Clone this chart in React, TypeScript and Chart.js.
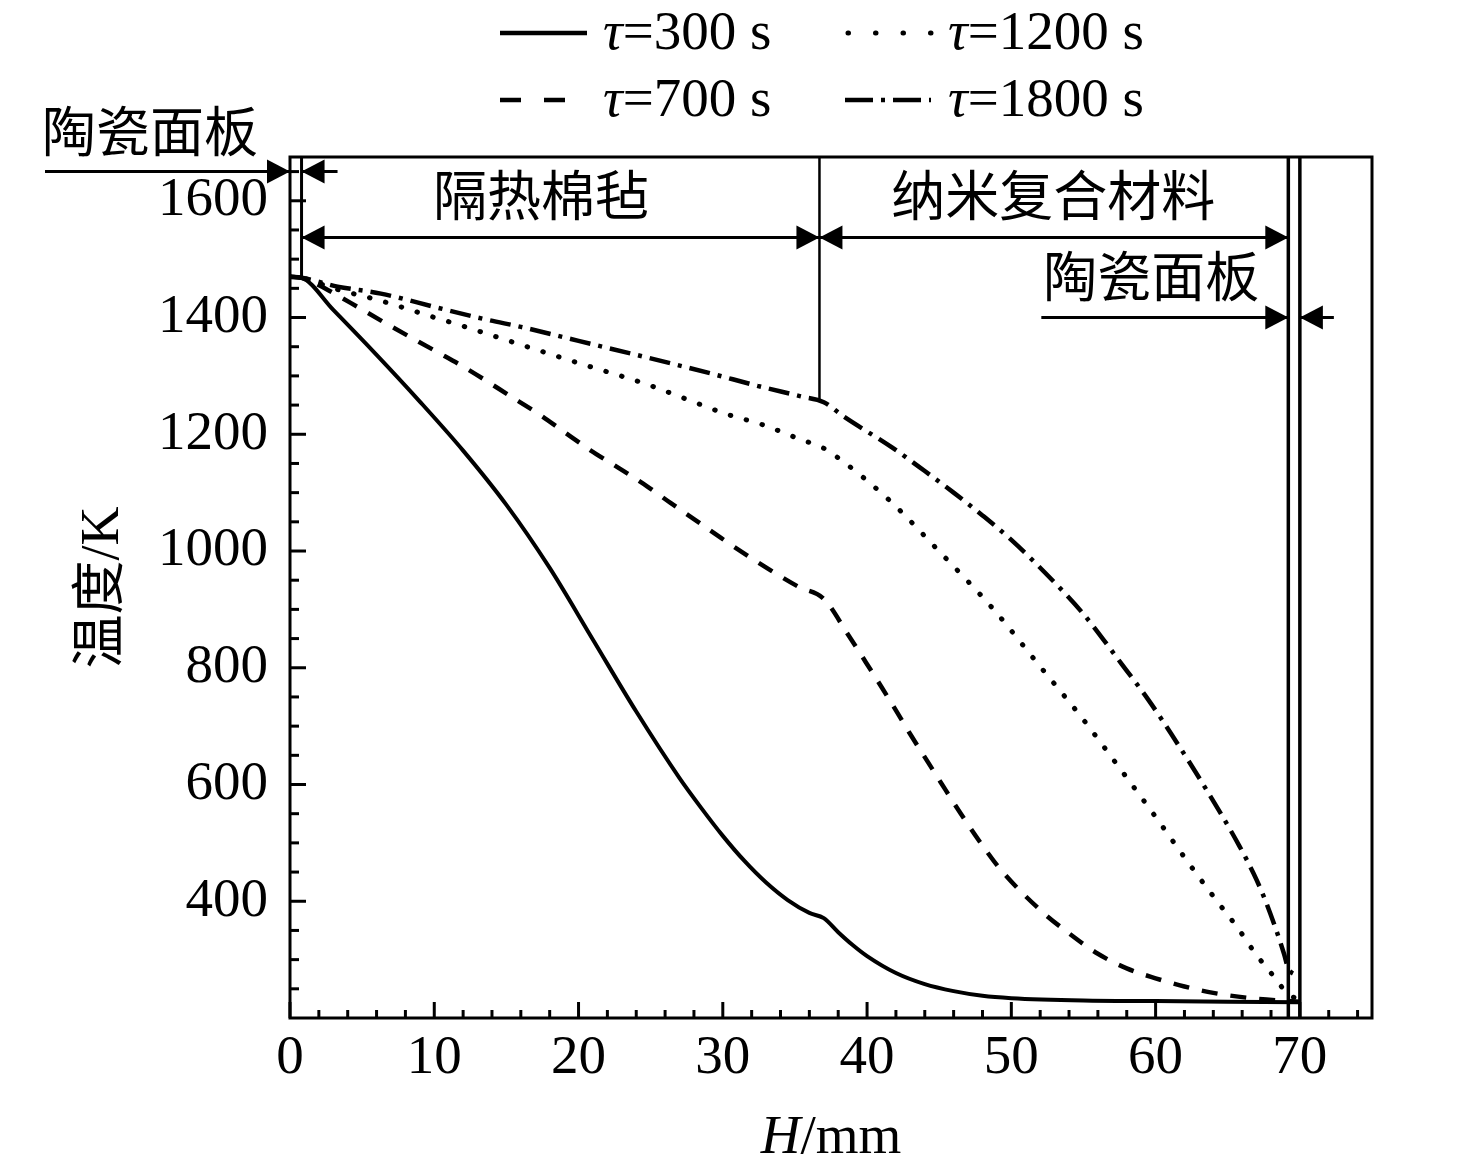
import React, { useEffect, useRef } from "react";
import { Chart, registerables } from "chart.js";

Chart.register(...registerables);

// ---------------- data ----------------
const pos300 = [0, 0.8, 3, 6, 9, 12, 15, 18, 21, 24, 27, 28.5, 30, 31.5, 33, 34.5, 36, 37.0, 38, 39, 40, 42, 44, 46, 48, 50, 55, 60, 65, 70];
const temp300 = [1470, 1468, 1413, 1336, 1256, 1172, 1079, 971, 848, 725, 611, 560, 512, 469, 432, 402, 380, 371, 347, 325, 306, 277, 258, 246, 238, 234, 230, 229, 228, 227];

const pos700 = [0, 0.8, 2.5, 4.2, 7, 10.2, 12, 15.3, 17.4, 19, 20.8, 22.8, 24.8, 26.4, 28.1, 29.9, 31.9, 33.7, 35.3, 37.0, 38.7, 39.9, 41, 42, 42.9, 44.1, 45.1, 46.5, 47.9, 49.2, 52, 54, 56, 58, 60, 62, 64, 67, 70];
const temp700 = [1470, 1468, 1449, 1425, 1385, 1341, 1316, 1265, 1232, 1204, 1173, 1142, 1110, 1082, 1053, 1022, 989, 961, 938, 918, 856, 810, 767, 727, 690, 643, 604, 550, 499, 456, 385, 345, 310, 285, 268, 254, 243, 233, 228];

const pos1200 = [0, 0.8, 3, 5.8, 7.2, 9.5, 11.9, 15.8, 20, 24.8, 27.6, 30.2, 32.8, 35.3, 37.0, 37.7, 41.5, 44.9, 48.8, 51.9, 54.9, 57.6, 59.9, 62.3, 64.2, 65.7, 66.9, 68.3, 69.2, 70];
const temp1200 = [1470, 1468, 1450, 1432, 1422, 1404, 1386, 1355, 1322, 1285, 1259, 1235, 1216, 1192, 1176, 1165, 1088, 1002, 899, 805, 714, 625, 548, 465, 402, 354, 311, 268, 240, 233];

const pos1800 = [0, 0.8, 3.3, 6.3, 10.2, 13.7, 16, 20, 25, 29.2, 32.4, 35.4, 37.0, 38.4, 41.7, 44, 46, 48, 50, 53, 55, 57.6, 59.5, 61.1, 63.4, 65.8, 66.8, 67.5, 68.3, 68.9, 69.2, 70];
const temp1800 = [1470, 1468, 1453, 1441, 1417, 1396, 1384, 1360, 1330, 1304, 1283, 1265, 1255, 1230, 1178, 1137, 1100, 1061, 1019, 946, 892, 808, 745, 686, 596, 495, 447, 408, 355, 310, 285, 272];

const seriesTimes = [300, 700, 1200, 1800];
const xTickValues = [0, 10, 20, 30, 40, 50, 60, 70];
const yTickValues = [400, 600, 800, 1000, 1200, 1400, 1600];
const layerBounds = [0.8, 36.7, 69.2, 70.0];
const layerNames = ["陶瓷面板", "隔热棉毡", "纳米复合材料", "陶瓷面板"];
const xAxisTitle = ["H", "/mm"];
const yAxisTitle = "温度/K";

// ---------------- styling ----------------
const SERIF = '"Liberation Serif", "Times New Roman", "Noto Sans CJK SC", serif';
const CJK = '"Liberation Serif", "Noto Sans CJK SC", serif';
const FS = 55;
const CFS = 54;

const interp = (xs: number[], ys: number[], v: number) => {
  for (let i = 0; i < xs.length - 1; i++) {
    if (v >= xs[i] && v <= xs[i + 1]) {
      const t = (v - xs[i]) / (xs[i + 1] - xs[i]);
      return ys[i] + t * (ys[i + 1] - ys[i]);
    }
  }
  return ys[ys.length - 1];
};

const toPoints = (xs: number[], ys: number[]) => xs.map((x, i) => ({ x, y: ys[i] }));

const arrowHead = (ctx: CanvasRenderingContext2D, tipX: number, tipY: number, dir: number) => {
  const L = 23, W = 12;
  ctx.beginPath();
  ctx.moveTo(tipX, tipY);
  ctx.lineTo(tipX - dir * L, tipY - W);
  ctx.lineTo(tipX - dir * L, tipY + W);
  ctx.closePath();
  ctx.fill();
};

const hline = (ctx: CanvasRenderingContext2D, x1: number, x2: number, y: number) => {
  ctx.beginPath();
  ctx.moveTo(x1, y);
  ctx.lineTo(x2, y);
  ctx.stroke();
};

const vline = (ctx: CanvasRenderingContext2D, x: number, y1: number, y2: number) => {
  ctx.beginPath();
  ctx.moveTo(x, y1);
  ctx.lineTo(x, y2);
  ctx.stroke();
};

const annotationPlugin = {
  id: "annotations",
  afterDraw(chart: any) {
    const { ctx, chartArea: a, scales } = chart;
    const X = (v: number) => scales.x.getPixelForValue(v);
    const Y = (v: number) => scales.y.getPixelForValue(v);
    ctx.save();
    ctx.strokeStyle = "#000";
    ctx.fillStyle = "#000";
    ctx.setLineDash([]);
    ctx.lineCap = "butt";

    // frame
    ctx.lineWidth = 3;
    ctx.strokeRect(a.left, a.top, a.right - a.left, a.bottom - a.top);

    // inward ticks
    ctx.lineWidth = 3;
    for (let v = 0; v <= 75; v += 2) {
      const major = v % 10 === 0;
      vline(ctx, X(v), a.bottom, a.bottom - (major ? 16 : 8));
    }
    for (let v = 250; v < 1675; v += 50) {
      const major = v % 200 === 0;
      hline(ctx, a.left, a.left + (major ? 16 : 9), Y(v));
    }

    // layer boundaries
    ctx.lineWidth = 3;
    vline(ctx, X(layerBounds[0]), a.top, Y(interp(pos1800, temp1800, layerBounds[0])));
    ctx.lineWidth = 2.5;
    vline(ctx, X(layerBounds[1]), a.top, Y(interp(pos1800, temp1800, layerBounds[1])));
    ctx.lineWidth = 3.5;
    vline(ctx, X(layerBounds[2]), a.top, a.bottom);
    vline(ctx, X(layerBounds[3]), a.top, a.bottom);

    // dimension arrows
    ctx.lineWidth = 3;
    const yTop = Y(1650);
    const yMid = Y(1537);
    const yRight = Y(1400);
    const x0 = X(0);
    const xb0 = X(layerBounds[0]);
    const xb1 = X(layerBounds[1]);
    const xb2 = X(layerBounds[2]);
    const xb3 = X(layerBounds[3]);

    hline(ctx, x0 - 245, x0, yTop);
    arrowHead(ctx, x0, yTop, 1);
    hline(ctx, xb0, xb0 + 36, yTop);
    arrowHead(ctx, xb0, yTop, -1);
    hline(ctx, xb0, xb1, yMid);
    arrowHead(ctx, xb0, yMid, -1);
    arrowHead(ctx, xb1, yMid, 1);
    hline(ctx, xb1, xb2, yMid);
    arrowHead(ctx, xb1, yMid, -1);
    arrowHead(ctx, xb2, yMid, 1);
    hline(ctx, xb2 - 247, xb2, yRight);
    arrowHead(ctx, xb2, yRight, 1);
    hline(ctx, xb3, xb3 + 34, yRight);
    arrowHead(ctx, xb3, yRight, -1);

    // layer names
    ctx.font = `${CFS}px ${CJK}`;
    ctx.textBaseline = "middle";
    ctx.textAlign = "left";
    ctx.fillText(layerNames[0], x0 - 248, yTop - 34);
    ctx.textAlign = "center";
    ctx.fillText(layerNames[1], X(17.4), yMid - 36);
    ctx.fillText(layerNames[2], X(52.9), yMid - 36);
    ctx.fillText(layerNames[3], X(59.7), yRight - 35);

    // axis titles
    ctx.textBaseline = "alphabetic";
    ctx.textAlign = "left";
    const cx = (a.left + a.right) / 2;
    ctx.font = `italic ${FS}px ${SERIF}`;
    const wH = ctx.measureText(xAxisTitle[0]).width;
    ctx.font = `${FS}px ${SERIF}`;
    const wR = ctx.measureText(xAxisTitle[1]).width;
    const startX = cx - (wH + wR) / 2;
    ctx.font = `italic ${FS}px ${SERIF}`;
    ctx.fillText(xAxisTitle[0], startX, 1153);
    ctx.font = `${FS}px ${SERIF}`;
    ctx.fillText(xAxisTitle[1], startX + wH, 1153);

    ctx.save();
    ctx.translate(104, (a.top + a.bottom) / 2);
    ctx.rotate(-Math.PI / 2);
    ctx.font = `${CFS}px ${CJK}`;
    ctx.textAlign = "center";
    ctx.textBaseline = "middle";
    ctx.fillText(yAxisTitle, 0, 0);
    ctx.restore();

    // legend
    const legendSlots = [
      { col: 0, row: 0 },
      { col: 0, row: 1 },
      { col: 1, row: 0 },
      { col: 1, row: 1 },
    ];
    const colSample = [500, 845];
    const colText = [603, 948];
    const rowLine = [33, 100];
    const rowText = [49, 116];
    seriesTimes.forEach((t, i) => {
      const { col, row } = legendSlots[i];
      const sx = colSample[col];
      const ly = rowLine[row];
      ctx.lineWidth = 4.5;
      ctx.lineCap = "butt";
      if (i === 0) {
        ctx.setLineDash([]);
        hline(ctx, sx, sx + 87, ly);
      } else if (i === 1) {
        ctx.setLineDash([21, 23]);
        hline(ctx, sx, sx + 66, ly);
      } else if (i === 2) {
        ctx.lineWidth = 5;
        ctx.setLineDash([0.5, 27]);
        ctx.lineCap = "round";
        hline(ctx, sx + 3, sx + 90, ly);
      } else {
        ctx.setLineDash([28, 8, 4, 8]);
        hline(ctx, sx, sx + 86, ly);
      }
      ctx.setLineDash([]);
      ctx.lineCap = "butt";
      const tx = colText[col];
      const ty = rowText[row];
      ctx.textAlign = "left";
      ctx.textBaseline = "alphabetic";
      ctx.font = `italic ${FS}px ${SERIF}`;
      ctx.fillText("τ", tx, ty);
      const wt = ctx.measureText("τ").width;
      ctx.font = `${FS}px ${SERIF}`;
      ctx.fillText(`=${t} s`, tx + wt, ty);
    });

    ctx.restore();
  },
};

export default function App() {
  const ref = useRef<HTMLCanvasElement | null>(null);

  useEffect(() => {
    if (!ref.current) return;
    const common = {
      borderColor: "#000",
      backgroundColor: "#000",
      borderWidth: 4,
      pointRadius: 0,
      fill: false,
      cubicInterpolationMode: "monotone" as const,
    };
    const chart = new Chart(ref.current, {
      type: "line",
      data: {
        datasets: [
          { ...common, label: "τ=300 s", data: toPoints(pos300, temp300), borderDash: [] },
          { ...common, label: "τ=700 s", data: toPoints(pos700, temp700), borderDash: [16, 13], borderWidth: 4.5 },
          { ...common, label: "τ=1200 s", data: toPoints(pos1200, temp1200), borderDash: [0.5, 16], borderCapStyle: "round", borderWidth: 5 },
          { ...common, label: "τ=1800 s", data: toPoints(pos1800, temp1800), borderDash: [21, 8, 4, 8], borderWidth: 4.5 },
        ],
      },
      options: {
        responsive: false,
        devicePixelRatio: 1,
        animation: false,
        layout: { padding: { top: 157, right: 104, left: 0, bottom: 0 } },
        plugins: {
          legend: { display: false },
          tooltip: { enabled: false },
          title: { display: false },
        },
        scales: {
          x: {
            type: "linear",
            min: 0,
            max: 75,
            border: { display: false },
            grid: { display: false, drawTicks: false },
            ticks: {
              stepSize: 10,
              includeBounds: false,
              padding: 8,
              color: "#000",
              font: { family: SERIF, size: FS },
              maxRotation: 0,
              autoSkip: false,
              callback: (v: any) => String(v),
            },
            afterBuildTicks: (s: any) => {
              s.ticks = xTickValues.map((v) => ({ value: v }));
            },
            afterFit: (s: any) => {
              s.height = 155;
            },
          },
          y: {
            type: "linear",
            min: 200,
            max: 1675,
            border: { display: false },
            grid: { display: false, drawTicks: false },
            ticks: {
              stepSize: 200,
              includeBounds: false,
              padding: 22,
              color: "#000",
              font: { family: SERIF, size: FS },
              autoSkip: false,
              callback: (v: any) => String(v),
            },
            afterBuildTicks: (s: any) => {
              s.ticks = yTickValues.map((v) => ({ value: v }));
            },
            afterFit: (s: any) => {
              s.width = 290;
            },
          },
        },
      } as any,
      plugins: [annotationPlugin],
    });
    return () => chart.destroy();
  }, []);

  return (
    <canvas
      ref={ref}
      width={1476}
      height={1173}
      style={{ position: "absolute", left: 0, top: 0, width: 1476, height: 1173, background: "#fff" }}
    />
  );
}
